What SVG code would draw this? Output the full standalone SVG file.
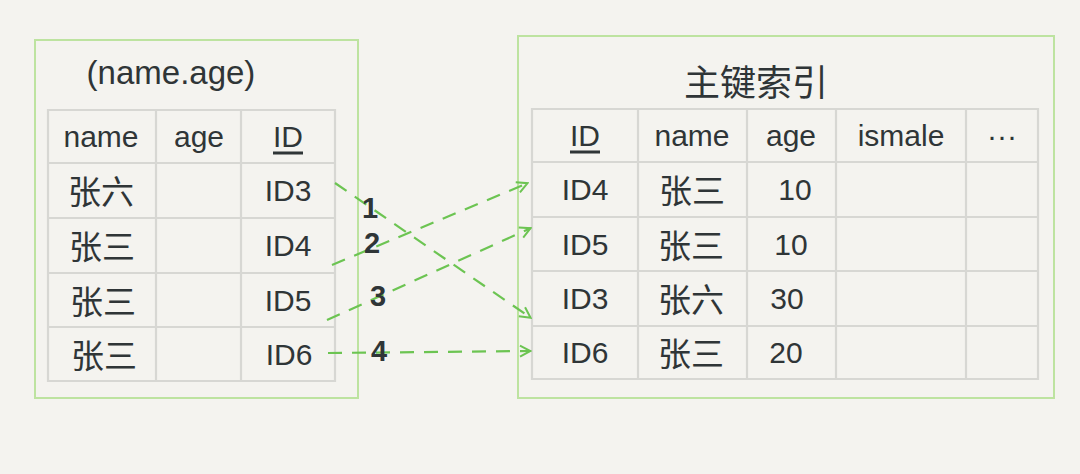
<svg xmlns="http://www.w3.org/2000/svg" width="1080" height="474" viewBox="0 0 1080 474">
<defs>
<style>
.bg{fill:#f4f3ef}
.box{fill:none;stroke:#bde3a0;stroke-width:2}
.grid{fill:none;stroke:#d7d7d3;stroke-width:2.2}
.t{font-family:"Liberation Sans","Noto Sans CJK SC",sans-serif;font-size:30px;fill:#2f3537;text-anchor:middle;dominant-baseline:central}
.cn{font-family:"Noto Sans CJK SC",sans-serif;font-size:33px}
.title{font-size:33px}
.ctitle{font-family:"Noto Sans CJK SC",sans-serif;font-size:36px}
.num{font-weight:bold;font-size:29px}
.conn{fill:none;stroke:#6cc452;stroke-width:2.2;stroke-dasharray:14 10}
</style>
<marker id="ah" viewBox="0 0 14 14" refX="13" refY="7" markerWidth="14" markerHeight="14" markerUnits="userSpaceOnUse" orient="auto">
<path d="M2,1.5 L12.5,7 L2,12.5" fill="none" stroke="#6cc452" stroke-width="2"/>
</marker>
</defs>
<rect class="bg" x="0" y="0" width="1080" height="474"/>

<g id="secondary-index">
<rect class="box" x="35" y="40" width="323" height="358"/>
<text class="t title" x="171" y="72">(name.age)</text>
<path class="grid" d="M48,110 H335 V381 H48 Z M48,163 H335 M48,218 H335 M48,273 H335 M48,327 H335 M156,110 V381 M241,110 V381"/>
<text class="t" x="101" y="136">name</text>
<text class="t" x="199" y="136">age</text>
<text class="t" x="288" y="136" text-decoration="underline">ID</text>
<text class="t cn" x="101" y="190">张六</text>
<text class="t" x="288" y="190">ID3</text>
<text class="t cn" x="102" y="245">张三</text>
<text class="t" x="288" y="245">ID4</text>
<text class="t cn" x="103" y="300">张三</text>
<text class="t" x="288" y="300">ID5</text>
<text class="t cn" x="104" y="354">张三</text>
<text class="t" x="289" y="354">ID6</text>
</g>

<g id="primary-index">
<rect class="box" x="518" y="36" width="536" height="362"/>
<text class="t ctitle" x="756" y="80">主键索引</text>
<path class="grid" d="M532,109 H1038 V379 H532 Z M532,162 H1038 M532,217 H1038 M532,271 H1038 M532,326 H1038 M638,109 V379 M747,109 V379 M836,109 V379 M966,109 V379"/>
<text class="t" x="585" y="135" text-decoration="underline">ID</text>
<text class="t" x="692" y="135">name</text>
<text class="t" x="791" y="135">age</text>
<text class="t" x="901" y="135">ismale</text>
<text class="t" x="1002" y="135">···</text>
<text class="t" x="585" y="189">ID4</text>
<text class="t cn" x="692" y="189">张三</text>
<text class="t" x="795" y="189">10</text>
<text class="t" x="585" y="244">ID5</text>
<text class="t cn" x="691" y="244">张三</text>
<text class="t" x="791" y="244">10</text>
<text class="t" x="585" y="298">ID3</text>
<text class="t cn" x="691" y="298">张六</text>
<text class="t" x="787" y="298">30</text>
<text class="t" x="585" y="352">ID6</text>
<text class="t cn" x="691" y="352">张三</text>
<text class="t" x="786" y="352">20</text>
</g>

<g id="connectors">
<path class="conn" marker-end="url(#ah)" d="M335,183 L531,318"/>
<path class="conn" marker-end="url(#ah)" d="M332,265 L528,183"/>
<path class="conn" marker-end="url(#ah)" d="M327,320 L531,228"/>
<path class="conn" marker-end="url(#ah)" d="M328,353 L531,351"/>
<text class="t num" x="370" y="208">1</text>
<text class="t num" x="372" y="243">2</text>
<text class="t num" x="378" y="296">3</text>
<text class="t num" x="379" y="351">4</text>
</g>
</svg>
